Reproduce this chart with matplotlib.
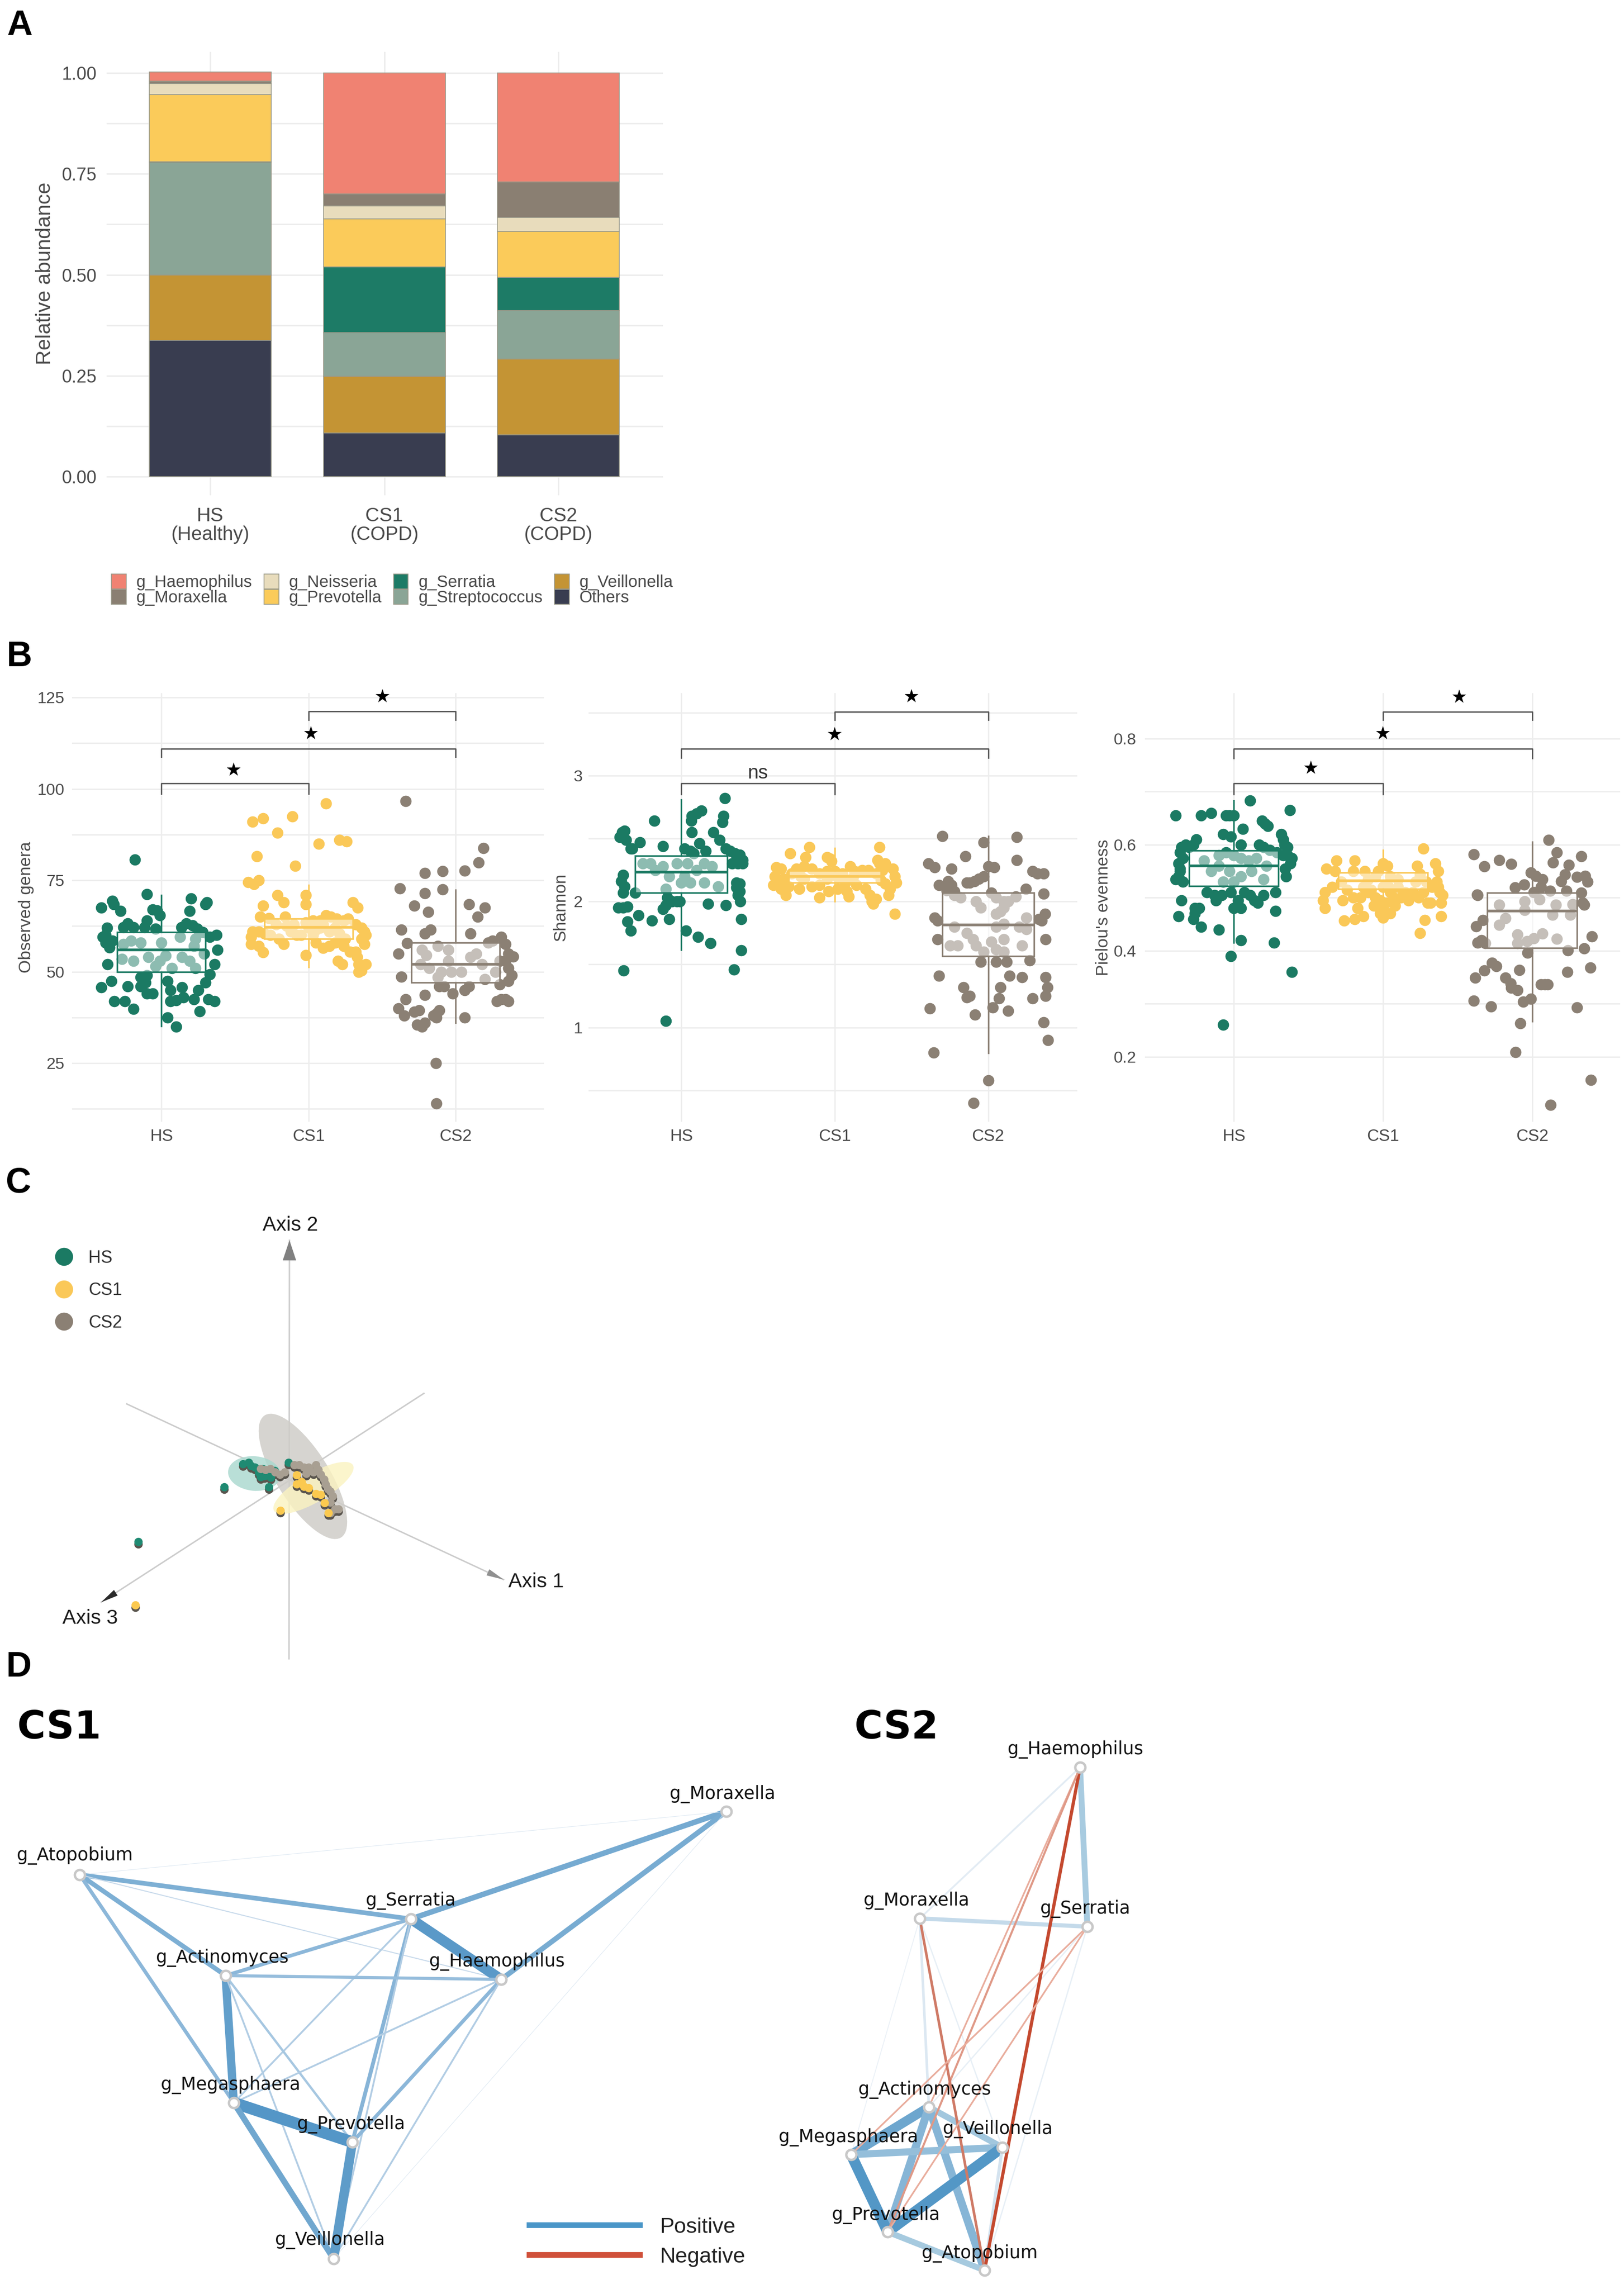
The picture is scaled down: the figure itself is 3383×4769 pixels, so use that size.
# -*- coding: utf-8 -*-
import numpy as np
import matplotlib
matplotlib.use("Agg")
import matplotlib.pyplot as plt
from matplotlib.colors import LinearSegmentedColormap
from matplotlib.lines import Line2D
from matplotlib.patches import Ellipse

plt.rcParams['font.family'] = ['Liberation Sans', 'DejaVu Sans']

W, H = 3383, 4769
PT = 0.72   # one pixel in points at dpi 100

GREEN = '#1B7A63'
YELLOW = '#FAC858'
TAUPE = '#8B8074'
GRID = '#EDEDED'
TICK = '#4A4A4A'

# ---------- panel A ----------
groups_a = ['HS\n(Healthy)', 'CS1\n(COPD)', 'CS2\n(COPD)']
genera = ['g_Haemophilus', 'g_Moraxella', 'g_Neisseria', 'g_Prevotella',
          'g_Serratia', 'g_Streptococcus', 'g_Veillonella', 'Others']
genus_colors = ['#F08272', '#8A7F72', '#E8DCBC', '#FBCB5A',
                '#1D7B66', '#8AA596', '#C49434', '#393D50']
haemophilus = [0.022, 0.300, 0.270]
moraxella = [0.007, 0.029, 0.088]
neisseria = [0.027, 0.033, 0.034]
prevotella = [0.166, 0.118, 0.115]
serratia = [0.002, 0.163, 0.081]
streptococcus = [0.278, 0.108, 0.121]
veillonella = [0.162, 0.140, 0.187]
others = [0.338, 0.109, 0.104]

# ---------- panel B ----------
groups_b = ['HS', 'CS1', 'CS2']

# (jitter offset, value)
obs_hs = [(-.18,80.6),(-.10,71.2),(.20,70),(-.335,69.4),(-.325,68.5),(.31,69),(.30,68.5),(-.41,67.6),(-.28,66.6),(.19,66.6),
          (-.06,67),(-.03,66.8),(-.01,65.4),(-.10,64),(-.115,62.2),(-.37,62),(-.38,60),(-.40,59.5),(-.38,58),(-.355,56.7),
          (-.335,58.5),(-.26,62.2),(-.23,63.2),(-.19,62.2),(-.04,61.8),(.135,62.2),(.17,63.2),(.21,62.7),(.245,61.8),(.28,60.8),
          (.33,59.5),(.375,60),(.38,56),(-.205,58.5),(-.14,58),(-.26,57.6),(0,58),(.125,59.5),(.23,59),(-.27,53.5),
          (-.365,52),(-.19,53),(-.09,54),(-.01,53),(.03,54.4),(-.04,51.5),(.14,54),(.19,53),(.23,51),(.36,52),
          (.33,49.3),(.30,47),(-.14,48.5),(-.11,47),(.04,47.5),(-.41,45.8),(-.34,47.5),(-.23,46),(-.14,46),(-.10,44),
          (-.06,44),(.06,45),(.14,45.8),(.25,45),(-.32,42),(-.25,42),(-.19,39.8),(.06,42),(.10,42.2),(.15,43),
          (.22,42.5),(.26,39.2),(.32,42.5),(.36,42),(.04,37.5),(.10,35),(.07,51),(.22,57),(.29,55),(-.10,49)]
obs_cs1 = [(.12,96),(-.38,91),(-.31,91.9),(-.11,92.5),(-.21,88),(.07,85),(.21,86),(.26,85.7),(-.35,81.6),(-.09,79),
           (-.41,74.5),(-.37,74),(-.34,75),(-.21,71),(-.17,69),(-.02,71),(-.02,68.5),(.30,69),(.335,67.5),(-.31,68),
           (-.33,65),(-.27,64.7),(-.16,65),(-.02,63.5),(.03,64),(.08,64),(.12,65.5),(.15,65),(.19,64.5),(.24,64),
           (.27,64.5),(.32,63),(.36,62),(.38,61),(.39,60),(.36,59),(-.38,61),(-.39,59.5),(-.34,61),(-.30,60.5),
           (-.26,60),(-.20,59),(-.12,61),(-.08,60),(.03,60),(.08,62),(.14,61),(.21,60.5),(.25,59),(.05,58),
           (.10,56.5),(.14,57),(.18,58),(.24,57),(.28,55.5),(.32,55.5),(.38,57.5),(-.39,57.5),(-.34,57),(-.31,55.3),
           (-.17,57.5),(-.02,54.5),(.20,53),(.23,52),(.33,54),(.34,52),(.36,50.3),(.39,52),(.34,50),(-.22,63),
           (-.10,63),(0,62),(.10,63),(.05,61.5),(-.05,60),(-.15,62.5),(.18,62)]
obs_cs2 = [(-.34,96.7),(.19,83.8),(.155,79.9),(.06,77.7),(-.09,77.5),(-.21,77),(-.09,72.5),(-.38,72.8),(-.21,71.5),(-.28,68),
           (.09,68.4),(.2,67.6),(.15,65),(-.185,66.3),(-.37,61.5),(-.21,60.5),(-.17,61.5),(.10,60.5),(-.33,57.8),(-.39,55),
           (-.37,48.7),(.22,58),(.25,58.5),(.31,59.5),(.34,57.5),(.36,55),(.39,54.2),(.34,53),(.36,51),(.38,49),
           (.36,47.5),(.30,46.5),(.27,50),(.30,53),(-.23,56),(-.2,54.5),(-.12,57),(-.05,56),(-.03,50),(-.12,48.5),
           (-.1,50),(.04,50),(.1,54),(.14,55),(.18,52),(-.08,46),(-.11,46),(.09,46),(.06,45),(-.34,42.5),
           (-.21,43.7),(-.02,44),(.28,42),(.31,42.5),(.34,42.5),(.36,42),(-.39,40),(-.35,38),(-.28,39),(-.25,39.5),
           (-.21,36),(-.26,35.5),(-.23,35),(-.15,38),(-.13,38.5),(-.11,39.5),(-.13,37.5),(.06,37.5),(-.135,25),(-.13,14),
           (-.18,51),(-.24,52),(.2,48),(-.05,53)]

sha_hs = [(.285,2.82),(.13,2.72),(.10,2.70),(.07,2.68),(.275,2.68),(.27,2.63),(-.175,2.64),(.065,2.64),(-.385,2.55),(-.37,2.56),
          (-.40,2.51),(-.36,2.49),(.07,2.55),(.21,2.55),(.25,2.49),(-.27,2.47),(-.12,2.44),(.12,2.46),(.06,2.4),(-.33,2.42),
          (-.32,2.42),(.02,2.42),(.08,2.38),(.16,2.40),(.29,2.42),(.32,2.40),(.35,2.38),(.38,2.37),(.40,2.33),(.37,2.3),
          (.40,2.3),(.33,2.3),(-.2,2.3),(-.12,2.28),(-.03,2.3),(.04,2.3),(.1,2.25),(.15,2.3),(.2,2.28),(-.17,2.25),
          (-.25,2.3),(-.08,2.2),(.02,2.2),(0,2.15),(.15,2.15),(.24,2.12),(-.1,2.1),(.06,2.15),(.36,2.15),(.38,2.14),
          (.36,2.11),(.38,2.08),(.37,2.05),(.385,2.0),(-.38,2.21),(-.39,2.16),(-.37,2.12),(-.38,2.07),(-.30,2.07),(-.09,2.03),
          (-.06,2.0),(-.03,2.0),(-.01,2.0),(-.1,1.97),(-.12,1.94),(.175,1.98),(.29,1.97),(-.41,1.95),(-.38,1.95),(-.35,1.96),
          (-.28,1.89),(-.19,1.85),(-.08,1.86),(-.35,1.84),(-.33,1.77),(.39,1.86),(.03,1.77),(.11,1.72),(.19,1.67),(.39,1.61),
          (.345,1.46),(-.375,1.45),(-.10,1.05)]
sha_cs1 = [(.29,2.43),(-.165,2.43),(-.29,2.38),(-.19,2.35),(-.05,2.35),(-.03,2.34),(-.02,2.32),(.28,2.33),(.29,2.3),(.33,2.3),
           (.39,2.2),(.40,2.15),(.38,2.26),(.36,2.1),(.35,2.05),(-.38,2.27),(-.35,2.26),(-.39,2.2),(-.37,2.15),(-.40,2.13),
           (-.35,2.1),(-.32,2.05),(-.30,2.12),(-.33,2.18),(-.28,2.22),(-.25,2.26),(-.2,2.28),(-.15,2.26),(-.1,2.22),(-.05,2.24),
           (0,2.24),(.05,2.22),(.1,2.28),(.13,2.24),(.18,2.25),(.22,2.25),(.27,2.22),(.31,2.25),(-.23,2.1),(-.2,2.18),
           (-.15,2.12),(-.1,2.13),(-.04,2.08),(-.1,2.03),(.02,2.1),(.07,2.15),(.09,2.04),(.08,2.08),(.14,2.13),(.2,2.1),
           (.23,2.05),(.24,2.0),(.25,1.98),(.27,2.02),(.3,2.17),(.33,2.14),(.39,1.9),(-.05,2.18),(.02,2.19),(.12,2.19),(-.22,2.2)]
sha_cs2 = [(-.30,2.52),(.185,2.51),(-.03,2.47),(-.15,2.36),(.185,2.33),(-.39,2.3),(-.35,2.27),(-.24,2.26),(0,2.28),(.04,2.27),
           (.29,2.24),(.32,2.22),(.36,2.22),(-.03,2.2),(-.06,2.18),(-.09,2.16),(-.12,2.15),(-.14,2.15),(-.32,2.13),(-.26,2.16),
           (-.24,2.13),(-.27,2.09),(-.22,2.08),(-.25,2.1),(.245,2.1),(.36,2.06),(-.22,2.05),(-.18,2.03),(-.08,2.0),(.05,2.03),
           (.1,2.0),(.13,2.0),(.18,2.04),(.02,2.07),(-.05,1.95),(.1,1.95),(.08,1.92),(.05,1.9),(.37,1.9),(.35,1.85),
           (.33,1.86),(.25,1.87),(-.35,1.87),(-.33,1.85),(-.22,1.8),(-.14,1.75),(.05,1.8),(.1,1.82),(.2,1.8),(.25,1.78),
           (-.33,1.7),(.375,1.7),(-.25,1.65),(-.2,1.65),(-.1,1.7),(-.08,1.65),(-.03,1.6),(.02,1.68),(.05,1.62),(.1,1.6),
           (.1,1.7),(.22,1.65),(-.05,1.52),(.05,1.52),(.12,1.52),(.27,1.53),(-.32,1.41),(.14,1.41),(.22,1.4),(.375,1.4),
           (.08,1.32),(.385,1.32),(-.16,1.32),(-.14,1.24),(-.12,1.25),(.07,1.23),(.375,1.25),(.29,1.23),(-.38,1.15),(.03,1.16),
           (.13,1.13),(-.085,1.1),(.36,1.04),(.39,.9),(-.355,.8),(0,.58),(-.095,.40)]

eve_hs = [(.11,.683),(.375,.665),(-.39,.655),(-.22,.655),(-.15,.66),(-.05,.655),(-.03,.655),(0,.655),(.19,.645),(.21,.64),
          (.23,.635),(.06,.63),(-.07,.62),(-.02,.615),(.32,.62),(.33,.61),(.34,.60),(.36,.595),(-.25,.61),(-.27,.60),
          (-.3,.595),(-.32,.60),(-.35,.595),(-.36,.585),(-.34,.575),(-.37,.565),(-.36,.555),(.05,.60),(.17,.60),(.2,.595),
          (.24,.59),(.29,.585),(.33,.58),(.36,.58),(.39,.575),(.38,.565),(.345,.555),(.35,.54),(-.37,.54),(-.39,.535),
          (-.34,.53),(-.36,.55),(-.2,.57),(-.1,.58),(-.05,.585),(0,.58),(.05,.575),(.1,.57),(.15,.575),(.22,.56),
          (-.15,.55),(-.1,.56),(-.03,.55),(.05,.54),(.12,.55),(.2,.535),(-.07,.53),(0,.53),(-.18,.51),(-.13,.505),
          (-.12,.495),(-.08,.505),(-.02,.51),(.03,.495),(.07,.51),(.11,.505),(.14,.495),(.16,.49),(.2,.505),(.28,.51),
          (-.35,.495),(0,.48),(.05,.48),(-.26,.48),(-.23,.48),(-.26,.47),(-.27,.46),(.28,.475),(-.37,.465),(-.22,.445),
          (-.10,.44),(.05,.42),(.27,.415),(-.02,.39),(.39,.36),(-.07,.26)]
eve_cs1 = [(.27,.593),(-.31,.57),(-.38,.555),(-.32,.55),(-.19,.57),(0,.565),(.03,.56),(.23,.56),(.35,.565),(-.03,.55),
           (.25,.545),(.37,.55),(-.2,.55),(-.12,.55),(-.05,.54),(.36,.53),(.37,.52),(.38,.51),(.40,.505),(.39,.49),
           (.33,.52),(.32,.49),(.30,.49),(-.39,.51),(-.40,.495),(-.39,.48),(-.28,.53),(-.24,.515),(-.27,.495),(-.2,.5),
           (-.17,.48),(-.13,.52),(-.1,.51),(-.05,.5),(-.02,.495),(0,.48),(.02,.49),(.05,.51),(.07,.5),(.1,.52),
           (.15,.51),(.2,.51),(.24,.5),(-.02,.47),(0,.462),(.05,.47),(-.13,.465),(-.19,.46),(-.26,.457),(.28,.458),
           (.39,.465),(.25,.433),(-.1,.535),(.1,.535),(.22,.53),(0,.52),(.05,.54),
           (-.08,.515),(.03,.525),(.12,.5),(.17,.495),(-.15,.5),(-.06,.485),(.08,.485),(.27,.51),(.29,.53),(-.34,.52)]
eve_cs2 = [(.11,.609),(.165,.585),(.33,.578),(-.39,.582),(-.32,.559),(-.22,.571),(-.14,.564),(.14,.566),(.245,.562),(.22,.544),
           (.195,.531),(-.01,.547),(.025,.541),(.07,.535),(.30,.539),(.355,.541),(.37,.53),(-.055,.525),(-.115,.519),(.06,.52),
           (.01,.51),(.12,.513),(.23,.513),(.33,.509),(.34,.49),(.27,.488),(-.37,.506),(-.365,.505),(-.22,.487),(-.05,.493),
           (.05,.497),(.16,.487),(-.33,.458),(-.375,.446),(-.22,.449),(-.18,.461),(-.05,.477),(.135,.468),(.255,.468),(.35,.487),
           (-.34,.42),(-.365,.415),(-.315,.414),(-.10,.431),(-.10,.414),(-.035,.418),(.01,.423),(.07,.432),(.165,.422),(.24,.401),
           (.35,.404),(.40,.427),(-.03,.396),(-.27,.377),(-.24,.371),(-.32,.363),(-.38,.349),(-.085,.364),(.235,.36),(.39,.368),
           (-.18,.349),(-.145,.338),(-.14,.33),(-.10,.326),(.06,.336),(.085,.336),(.105,.336),(-.39,.306),(-.275,.295),(-.06,.304),
           (-.01,.309),(.30,.293),(-.08,.263),(-.11,.209),(.395,.156),(.125,.109)]

# med, q1, q3, whislo, whishi
obs_boxes = [(56, 50, 60.85, 35.1, 71), (62.2, 59, 64.5, 51.2, 73.7), (52.1, 47, 58, 36, 72.4)]
sha_boxes = [(2.233, 2.07, 2.364, 1.615, 2.81), (2.2, 2.15, 2.244, 2.0, 2.425), (1.815, 1.565, 2.07, .795, 2.52)]
eve_boxes = [(.56, .522, .589, .415, .683), (.532, .517, .547, .47, .59), (.475, .405, .509, .267, .605)]

# brackets: from, to, height, tip, label, label x, label y
obs_brackets = [(1, 2, 121.2, 118.8, '★', 1.5, 125), (0, 2, 111, 108.7, '★', 1.016, 115), (0, 1, 101.5, 98.6, '★', .49, 105)]
sha_brackets = [(1, 2, 3.508, 3.44, '★', 1.5, 3.62), (0, 2, 3.214, 3.14, '★', 1.0, 3.32), (0, 1, 2.94, 2.85, 'ns', .5, 3.02)]
eve_brackets = [(1, 2, .851, .835, '★', 1.51, .877), (0, 2, .781, .763, '★', 1.0, .808), (0, 1, .7155, .695, '★', .515, .743)]

# ---------- panel C ----------
pc_hs = [(-.97,.32),(-.85,.35),(-.72,.25),(-.64,.14),(-.52,.07),(-.39,.04),(-.56,.22),(-.31,.18),(-.80,.28),(-.60,.05),
         (-.45,.10),(-.43,-.16),(-1.36,-.16),(-3.15,-1.30),(-.02,.35)]
pc_cs2 = [(-.6,.22),(-.5,.20),(-.4,.22),(-.3,.15),(-.2,.10),(-.1,.15),(.1,.30),(.2,.3),(.3,.25),(.4,.25),
          (.55,.3),(.6,.2),(.5,.15),(.35,.12),(.65,.1),(.72,0),(.75,-.1),(.8,-.2),(.85,-.25),(.9,-.35),
          (.85,-.48),(.95,-.62),(1.02,-.62),(.85,-.7)]
pc_cs1 = [(.15,.09),(.15,-.1),(.3,-.15),(.4,-.18),(.55,-.3),(.65,-.32),(.73,-.49),(.25,-.05),(-.19,-.65),(.81,-.70),(-3.21,-2.62)]

# ---------- panel D ----------
net_names = ['g_Moraxella', 'g_Atopobium', 'g_Serratia', 'g_Haemophilus',
             'g_Actinomyces', 'g_Megasphaera', 'g_Prevotella', 'g_Veillonella']
cs1_x = [1513, 166, 856, 1044, 470, 487, 734, 695]
cs1_y = [324, 456, 548, 674, 666, 931, 1013, 1256]
cs1_lx = [1505, 156, 856, 1035, 463, 480, 731, 687]
cs1_ly = [288, 416, 510, 637, 629, 894, 976, 1217]
cs1_from = [0, 0, 0, 0, 1, 1, 1, 1, 2, 2, 2, 2, 2, 4, 4, 4, 4, 3, 3, 3, 5, 5, 6]
cs1_to =   [2, 3, 1, 7, 2, 4, 3, 5, 3, 4, 5, 6, 7, 3, 5, 6, 7, 5, 6, 7, 6, 7, 7]
cs1_w = [.42, .40, .04, .04, .36, .36, .08, .28, .80, .28, .14, .30, .14, .24, .64, .18, .14, .14, .28, .14, .90, .46, .72]

cs2_x = [1916, 2051, 2265, 2250, 1935, 1773, 1849, 2088]
cs2_y = [547, 1280, 564, 232, 940, 1039, 1200, 1024]
cs2_lx = [1909, 2041, 2261, 2240, 1926, 1767, 1845, 2078]
cs2_ly = [510, 1245, 527, 195, 904, 1003, 1165, 986]
cs2_from = [3, 3, 0, 0, 0, 0, 2, 2, 4, 4, 4, 4, 5, 5, 7, 7, 6]
cs2_to =   [2, 0, 2, 4, 7, 5, 1, 4, 5, 7, 6, 1, 7, 6, 6, 1, 1]
cs2_w = [.45, .14, .32, .20, .10, .07, .10, .10, .72, .48, .62, .62, .55, .82, .82, .24, .46]
cs2_neg_from = [3, 3, 3, 0, 2, 2]
cs2_neg_to = [1, 4, 6, 1, 5, 6]
cs2_neg_w = [.25, .13, .16, .20, .13, .13]


def px_axes(left, top, right, bottom):
    return fig.add_axes([left / W, 1 - bottom / H, (right - left) / W, (bottom - top) / H])


def panel_letter(s, x, y):
    fig.text(x / W, 1 - y / H, s, fontsize=53, fontweight='bold', color='black', va='baseline')


fig = plt.figure(figsize=(W / 100, H / 100), dpi=100)

panel_letter('A', 14, 73)
panel_letter('B', 13, 1388)
panel_letter('C', 12, 2484)
panel_letter('D', 12, 3493)

# ---------- A ----------
ax = px_axes(222, 108, 1381, 1032)
stack = [others, veillonella, streptococcus, serratia, prevotella, neisseria, moraxella, haemophilus]
colors_up = genus_colors[::-1]
names_up = genera[::-1]
base = np.zeros(3)
handles = {}
for vals, c, name in zip(stack, colors_up, names_up):
    b = ax.bar(range(3), vals, 0.7, bottom=base, color=c, edgecolor='#9A9A8A', linewidth=1.2, zorder=3)
    handles[name] = b[0]
    base = base + np.array(vals)
ax.set_xlim(-0.595, 2.6)
ax.set_ylim(-0.046, 1.052)
ax.set_yticks([0, .25, .5, .75, 1])
ax.set_yticklabels(['0.00', '0.25', '0.50', '0.75', '1.00'])
ax.set_yticks([.125, .375, .625, .875], minor=True)
ax.set_xticks(range(3))
ax.set_xticklabels(groups_a, linespacing=1.05)
ax.grid(True, which='both', color=GRID, lw=2.2)
ax.set_axisbelow(True)
ax.tick_params(which='both', length=0)
ax.tick_params(axis='y', labelsize=27, labelcolor=TICK, pad=15)
ax.tick_params(axis='x', labelsize=29, labelcolor=TICK, pad=17)
ax.set_ylabel('Relative abundance', fontsize=31, color=TICK)
ax.yaxis.set_label_coords((114 - 222) / 1159, 0.5)
for s in ax.spines.values():
    s.set_visible(False)
fig.legend([handles[g] for g in genera], genera, ncols=4, frameon=False,
           loc='upper left', bbox_to_anchor=(232 / W, 1 - 1196 / H),
           fontsize=25, labelcolor=TICK, handlelength=0.88, handleheight=1.0,
           handletextpad=0.6, columnspacing=0.72, labelspacing=-0.08,
           borderpad=0, borderaxespad=0)


# ---------- B ----------
def box_panel(box, xlim, ylim, yticks, yminor, ylabel, label_x, pts, boxes, brackets, pad):
    a = px_axes(*box)
    for i, (p, c) in enumerate(zip(pts, [GREEN, YELLOW, TAUPE])):
        arr = np.array(p)
        a.scatter(i + arr[:, 0], arr[:, 1], s=290, color=c, linewidths=0, zorder=3)
        med, q1, q3, lo, hi = boxes[i]
        st = [dict(med=med, q1=q1, q3=q3, whislo=lo, whishi=hi, fliers=[])]
        a.bxp(st, positions=[i], widths=0.6, patch_artist=True, showcaps=False, showfliers=False,
              manage_ticks=False, zorder=4,
              boxprops=dict(facecolor=(1, 1, 1, 0.5), edgecolor=c, linewidth=2.4),
              medianprops=dict(color=c, linewidth=4),
              whiskerprops=dict(color=c, linewidth=2.4))
    for g0, g1, top, tip, lab, lx, ly in brackets:
        a.plot([g0, g0, g1, g1], [tip, top, top, tip], color='#555555', lw=2, zorder=5)
        if lab == 'ns':
            a.text(lx, ly, lab, fontsize=29, color='#333333', ha='center', va='center', zorder=6)
        else:
            a.text(lx, ly, lab, fontsize=27, family='DejaVu Sans', color='black', ha='center', va='center', zorder=6)
    a.set_xlim(*xlim)
    a.set_ylim(*ylim)
    a.set_xticks(range(3))
    a.set_xticklabels(groups_b)
    a.set_yticks(yticks)
    a.set_yticks(yminor, minor=True)
    a.grid(True, which='both', color=GRID, lw=2)
    a.set_axisbelow(True)
    a.tick_params(which='both', length=0)
    a.tick_params(axis='y', labelsize=24.5, labelcolor=TICK, pad=pad)
    a.tick_params(axis='x', labelsize=25, labelcolor=TICK, pad=10)
    a.set_ylabel(ylabel, fontsize=25.5, color=TICK)
    a.yaxis.set_label_coords((label_x - box[0]) / (box[2] - box[0]), 0.5)
    for s in a.spines.values():
        s.set_visible(False)
    return a


box_panel((150, 1444, 1133, 2337), (-.608, 2.6), (9, 126.2), [25, 50, 75, 100, 125], [12.5, 37.5, 62.5, 87.5, 112.5],
          'Observed genera', 71, [obs_hs, obs_cs1, obs_cs2], obs_boxes, obs_brackets, 11)
box_panel((1226, 1444, 2244, 2337), (-.604, 2.58), (.251, 3.655), [1, 2, 3], [.5, 1.5, 2.5, 3.5],
          'Shannon', 1184, [sha_hs, sha_cs1, sha_cs2], sha_boxes, sha_brackets, 9)
box_panel((2385, 1444, 3375, 2337), (-.595, 2.59), (.0775, .886), [.2, .4, .6, .8], [.3, .5, .7],
          "Pielou's evenness", 2315, [eve_hs, eve_cs1, eve_cs2], eve_boxes, eve_brackets, 13)

# ---------- C ----------
ax = px_axes(0, 2400, 1300, 3500)
ax.set_xlim(-6.03, 6.97)
ax.set_ylim(-4.16, 6.84)
ax.axis('off')
ax.patch.set_alpha(0)

axis_lines = [((-.01, -3.72), (0, 5.0), 0.42, 0.14, '#808080'),
              ((-3.39, 1.59), (4.46, -2.07), 0.36, 0.07, '#909090'),
              ((2.80, 1.81), (-3.92, -2.54), 0.36, 0.07, '#2A2A2A')]
for start, tip, length, half, col in axis_lines:
    ax.plot([start[0], tip[0]], [start[1], tip[1]], color='#CCCCCC', lw=2.2, zorder=1)
    d = np.array(tip) - np.array(start)
    d = d / np.hypot(*d)
    n = np.array([-d[1], d[0]])
    back = np.array(tip) - d * length
    tri = np.array([tip, back + n * half, back - n * half])
    ax.fill(tri[:, 0], tri[:, 1], color=col, lw=0, zorder=2)

ax.add_patch(Ellipse((.28, .08), 3.0, 1.1, angle=-58, color='#CFCDC8', alpha=.85, lw=0, zorder=2))
ax.add_patch(Ellipse((.5, -.16), 1.9, .6, angle=30, color='#FBF3C0', alpha=.8, lw=0, zorder=2))
ax.add_patch(Ellipse((-.73, .14), 1.1, .72, angle=-5, color='#A8D8CE', alpha=.8, lw=0, zorder=2))

for p, c in ((pc_hs, '#1F8A72'), (pc_cs2, '#A89F92'), (pc_cs1, '#FBC94F')):
    arr = np.array(p)
    ax.scatter(arr[:, 0], arr[:, 1] - .025, s=160, color='#5A554E', linewidths=0, zorder=3)
    ax.scatter(arr[:, 0], arr[:, 1] + .02, s=155, color=c, linewidths=0, zorder=4)

ax.text(.02, 5.31, 'Axis 2', fontsize=30.5, color='#1A1A1A', ha='center', va='center')
ax.text(5.14, -2.12, 'Axis 1', fontsize=30.5, color='#1A1A1A', ha='center', va='center')
ax.text(-4.15, -2.88, 'Axis 3', fontsize=30.5, color='#1A1A1A', ha='center', va='center')
c_handles = [Line2D([], [], ls='', marker='o', ms=27, mew=0, color=c) for c in (GREEN, YELLOW, TAUPE)]
ax.legend(c_handles, groups_b, frameon=False, fontsize=26, labelcolor='#333333', loc='upper left',
          bbox_to_anchor=(114 / 1300, 1 - (2604 - 2400) / 1100), handlelength=1.03, handletextpad=.9,
          labelspacing=.9, borderpad=0, borderaxespad=0)

# ---------- D ----------
ax = px_axes(0, 3450, W, H)
ax.set_xlim(0, W)
ax.set_ylim(H - 3450, 0)
ax.axis('off')
ax.patch.set_alpha(0)

blue1 = LinearSegmentedColormap.from_list('blue1', [(0, '#F2F5F9'), (.1, '#BCD3E7'), (.3, '#86B4D7'), (.5, '#6AA3CD'), (1, '#4F93C5')])
blue2 = LinearSegmentedColormap.from_list('blue2', [(0, '#F2F5F9'), (.2, '#DCE8F2'), (.45, '#A8CBE0'), (.65, '#80B1D4'), (.85, '#4B92C4'), (1, '#4A90C2')])
red = LinearSegmentedColormap.from_list('red', [(0, '#FBE9E3'), (.12, '#EDB4A4'), (.2, '#CF7A66'), (.25, '#C4492F'), (1, '#B03A22')])


def draw_edges(xs, ys, froms, tos, weights, cmap):
    for i, j, w in zip(froms, tos, weights):
        ax.plot([xs[i], xs[j]], [ys[i], ys[j]], color=cmap(w), lw=max(w * 27, 1) * PT,
                solid_capstyle='butt', zorder=2)


def draw_nodes(xs, ys, lx, ly):
    ax.scatter(xs, ys, s=230, facecolor='white', edgecolor='#C8C8C8', linewidths=3.6, zorder=4)
    for name, x, y in zip(net_names, lx, ly):
        ax.text(x, y, name, fontsize=26.5, family='DejaVu Sans', color='#111111', ha='center', va='center', zorder=5)


draw_edges(cs1_x, cs1_y, cs1_from, cs1_to, cs1_w, blue1)
draw_nodes(cs1_x, cs1_y, cs1_lx, cs1_ly)
draw_edges(cs2_x, cs2_y, cs2_from, cs2_to, cs2_w, blue2)
draw_edges(cs2_x, cs2_y, cs2_neg_from, cs2_neg_to, cs2_neg_w, red)
draw_nodes(cs2_x, cs2_y, cs2_lx, cs2_ly)

ax.text(36, 172, 'CS1', fontsize=58, fontweight='bold', family='DejaVu Sans', va='baseline')
ax.text(1780, 172, 'CS2', fontsize=58, fontweight='bold', family='DejaVu Sans', va='baseline')

d_handles = [Line2D([], [], color='#4A96C8', lw=8.5), Line2D([], [], color='#D0503A', lw=8.5)]
ax.legend(d_handles, ['Positive', 'Negative'], frameon=False, fontsize=32.5, labelcolor='#222222',
          loc='upper left', bbox_to_anchor=(1103 / W, 1 - 1170 / (H - 3450)), handlelength=5.1,
          handletextpad=.9, labelspacing=.47, borderpad=0, borderaxespad=0)

fig.savefig('out.png', dpi=100, facecolor='white')
